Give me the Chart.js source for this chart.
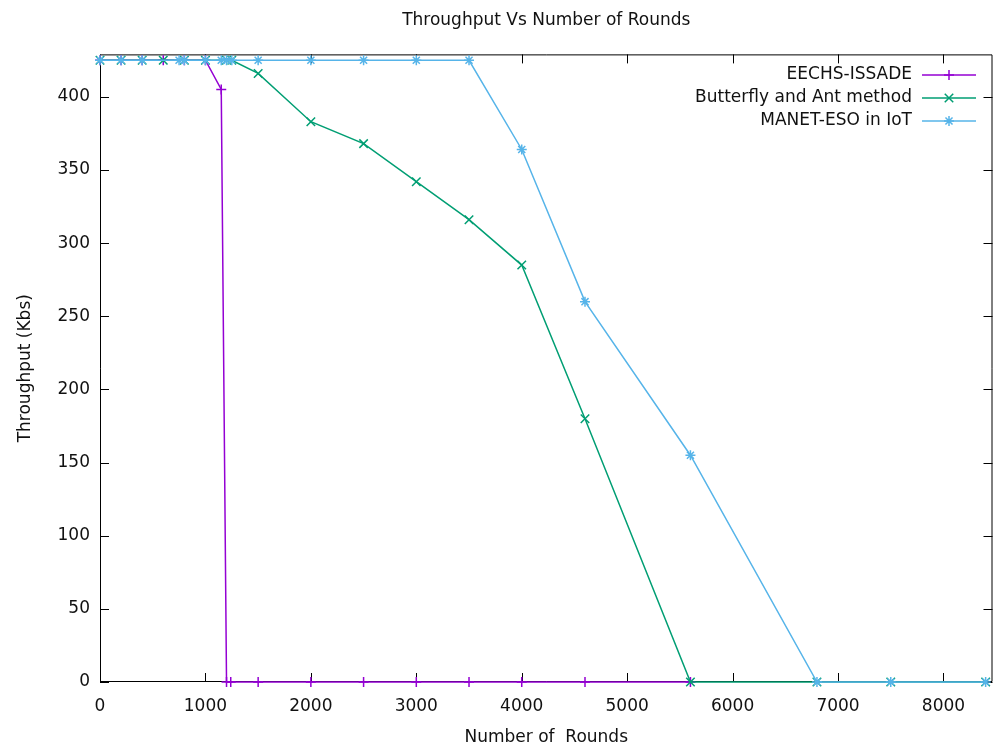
<!DOCTYPE html>
<html>
<head>
<meta charset="utf-8">
<script src="https://cdn.jsdelivr.net/npm/chart.js@4/dist/chart.umd.min.js"></script>
<style>
  body { margin: 0; background: #fff; }
  canvas { display: block; }
</style>
</head>
<body>
<canvas id="throughputChart" width="1000" height="754"></canvas>
<script>
// values
const eechsRounds = [0, 200, 400, 600, 800, 1000, 1150, 1200, 1240, 1500, 2000, 2500, 3000, 3500, 4000, 4600, 5600];
const eechsThroughput = [425, 425, 425, 425, 425, 425, 405, 0, 0, 0, 0, 0, 0, 0, 0, 0, 0];

const butterflyRounds = [0, 200, 400, 600, 800, 1000, 1200, 1250, 1500, 2000, 2500, 3000, 3500, 4000, 4600, 5600, 6800, 7500, 8400];
const butterflyThroughput = [425, 425, 425, 425, 425, 425, 425, 425, 416, 383, 368, 342, 316, 285, 180, 0, 0, 0, 0];

const manetRounds = [0, 200, 400, 750, 800, 1000, 1150, 1200, 1250, 1500, 2000, 2500, 3000, 3500, 4000, 4600, 5600, 6800, 7500, 8400];
const manetThroughput = [425, 425, 425, 425, 425, 425, 425, 425, 425, 425, 425, 425, 425, 425, 364, 260, 155, 0, 0, 0];

const xTickValues = [0, 1000, 2000, 3000, 4000, 5000, 6000, 7000, 8000];
const yTickValues = [0, 50, 100, 150, 200, 250, 300, 350, 400];

const seriesNames = ['EECHS-ISSADE', 'Butterfly and Ant method', 'MANET-ESO in IoT'];
const seriesColors = ['#9400d3', '#009e73', '#56b4e9'];
const seriesMarkers = ['cross', 'crossRot', 'star'];
const markerSizes = [5, 6, 5];

const FONT = 'DejaVu Sans';
const FONT_SIZE = 17;

function toPoints(xs, ys) {
    return xs.map((x, i) => ({ x: x, y: ys[i] }));
}

// gnuplot style frame with inward ticks on all four sides (drawn under the lines)
const framePlugin = {
    id: 'frame',
    beforeDatasetsDraw(chart) {
        const ctx = chart.ctx;
        const area = chart.chartArea;
        const xs = chart.scales.x;
        const ys = chart.scales.y;
        const tick = 9;
        ctx.save();
        ctx.strokeStyle = '#000';
        ctx.lineWidth = 1;
        ctx.beginPath();
        ctx.rect(area.left + 0.5, area.top + 0.5, area.right - area.left - 1, area.bottom - area.top - 1);
        xTickValues.forEach(v => {
            const px = Math.round(xs.getPixelForValue(v)) + 0.5;
            ctx.moveTo(px, area.bottom);
            ctx.lineTo(px, area.bottom - tick);
            ctx.moveTo(px, area.top);
            ctx.lineTo(px, area.top + tick);
        });
        yTickValues.forEach(v => {
            const py = Math.round(ys.getPixelForValue(v)) + 0.5;
            ctx.moveTo(area.left, py);
            ctx.lineTo(area.left + tick, py);
            ctx.moveTo(area.right, py);
            ctx.lineTo(area.right - tick, py);
        });
        ctx.stroke();
        ctx.restore();
    },
    afterDatasetsDraw(chart) {
        // legend inside the plot, text right aligned, sample on the right
        const ctx = chart.ctx;
        ctx.save();
        ctx.font = FONT_SIZE + 'px "' + FONT + '"';
        ctx.textAlign = 'right';
        ctx.textBaseline = 'middle';
        seriesNames.forEach((name, i) => {
            const y = 75 + i * 23;
            ctx.fillStyle = '#111';
            ctx.fillText(name, 912, y);
            ctx.strokeStyle = seriesColors[i];
            ctx.lineWidth = 1.5;
            ctx.beginPath();
            ctx.moveTo(922, y);
            ctx.lineTo(976, y);
            ctx.stroke();
            Chart.helpers.drawPoint(ctx, {
                pointStyle: seriesMarkers[i],
                radius: markerSizes[i],
                borderWidth: 1.5
            }, 949, y);
        });
        ctx.restore();
    }
};

function makeDataset(i, xs, ys, order) {
    return {
        label: seriesNames[i],
        data: toPoints(xs, ys),
        borderColor: seriesColors[i],
        backgroundColor: seriesColors[i],
        borderWidth: 1.5,
        pointStyle: seriesMarkers[i],
        pointRadius: markerSizes[i],
        pointBorderWidth: 1.5,
        pointHoverRadius: markerSizes[i],
        showLine: true,
        tension: 0,
        clip: false,
        order: order
    };
}

const tickFont = { family: FONT, size: FONT_SIZE };

const ctx = document.getElementById('throughputChart').getContext('2d');
new Chart(ctx, {
    type: 'scatter',
    data: {
        datasets: [
            makeDataset(0, eechsRounds, eechsThroughput, 2),
            makeDataset(1, butterflyRounds, butterflyThroughput, 1),
            makeDataset(2, manetRounds, manetThroughput, 0)
        ]
    },
    options: {
        responsive: false,
        animation: false,
        layout: { padding: { left: 0, right: 1, top: 0, bottom: 0 } },
        plugins: {
            legend: { display: false },
            tooltip: { enabled: false },
            title: {
                display: true,
                text: 'Throughput Vs Number of Rounds',
                fullSize: false,
                color: '#111',
                font: { family: FONT, size: FONT_SIZE, weight: 'normal' },
                padding: { top: 10, bottom: 24 }
            }
        },
        scales: {
            x: {
                type: 'linear',
                min: 0,
                max: 8465,
                grid: { display: false, drawTicks: false },
                border: { display: false },
                afterBuildTicks: s => { s.ticks = xTickValues.map(v => ({ value: v })); },
                afterFit: s => {
                    s.height = 72;
                    s.paddingLeft = 0;
                    s.paddingRight = 0;
                },
                ticks: {
                    color: '#111',
                    font: tickFont,
                    padding: 14,
                    maxRotation: 0,
                    autoSkip: false,
                    callback: v => String(v)
                },
                title: {
                    display: true,
                    text: 'Number of  Rounds',
                    color: '#111',
                    font: tickFont,
                    padding: { top: 0, bottom: 6 }
                }
            },
            y: {
                type: 'linear',
                min: 0,
                max: 429,
                grid: { display: false, drawTicks: false },
                border: { display: false },
                afterBuildTicks: s => { s.ticks = yTickValues.map(v => ({ value: v })); },
                afterFit: s => {
                    s.width = 100;
                    s.paddingTop = 0;
                    s.paddingBottom = 0;
                },
                ticks: {
                    color: '#111',
                    font: tickFont,
                    padding: 10,
                    autoSkip: false,
                    callback: v => String(v)
                },
                title: {
                    display: true,
                    text: 'Throughput (Kbs)',
                    color: '#111',
                    font: tickFont,
                    padding: { top: 15, bottom: 0 }
                }
            }
        }
    },
    plugins: [framePlugin]
});
</script>
</body>
</html>
